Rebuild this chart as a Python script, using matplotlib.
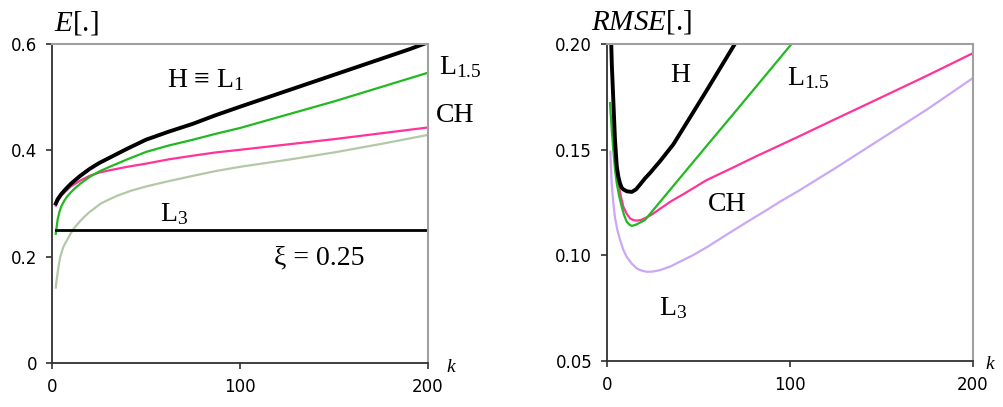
import matplotlib
matplotlib.use("Agg")
import matplotlib.pyplot as plt

plt.rcParams['mathtext.fontset'] = 'custom'
plt.rcParams['mathtext.rm'] = 'Liberation Serif'
plt.rcParams['mathtext.it'] = 'Liberation Serif:italic'

SERIF = ['Liberation Serif', 'DejaVu Serif']

# ---- left panel: E[.] vs k ----
e_h_k = [2, 3, 5, 7, 10, 15, 20, 25, 30, 40, 50, 62, 75, 87, 100, 125, 150, 175, 190, 200]
e_h = [0.300, 0.308, 0.318, 0.326, 0.337, 0.352, 0.365, 0.376, 0.385, 0.403, 0.420, 0.435,
       0.450, 0.466, 0.482, 0.512, 0.542, 0.572, 0.590, 0.603]

e_l15_k = [2, 3, 4, 5, 6.5, 8, 10, 12, 15, 20, 25, 30, 40, 50, 62, 75, 87, 100, 125, 150, 175, 200]
e_l15 = [0.243, 0.270, 0.285, 0.295, 0.305, 0.313, 0.321, 0.328, 0.337, 0.350, 0.360, 0.368,
         0.383, 0.397, 0.409, 0.420, 0.431, 0.442, 0.467, 0.492, 0.519, 0.546]

e_ch_k = [2, 3, 5, 7, 10, 15, 20, 25, 30, 40, 50, 62, 75, 87, 100, 125, 150, 175, 200]
e_ch = [0.296, 0.304, 0.315, 0.322, 0.332, 0.343, 0.352, 0.358, 0.362, 0.369, 0.375, 0.383,
        0.390, 0.396, 0.401, 0.411, 0.421, 0.432, 0.443]

e_l3_k = [2, 2.5, 3, 3.7, 4.4, 5, 6, 7, 8, 9.5, 11, 13, 15, 17.5, 20, 23, 26, 30, 35, 42, 50,
          62, 75, 87, 100, 125, 150, 175, 200]
e_l3 = [0.142, 0.157, 0.170, 0.186, 0.200, 0.207, 0.218, 0.225, 0.231, 0.241, 0.250, 0.259,
        0.267, 0.276, 0.284, 0.292, 0.300, 0.307, 0.315, 0.324, 0.332, 0.342, 0.352, 0.361,
        0.369, 0.382, 0.396, 0.412, 0.429]

xi_k = [2, 200]
xi = [0.25, 0.25]

# ---- right panel: RMSE[.] vs k ----
r_h_k = [1, 2, 2.8, 3.6, 4.5, 5.5, 6.4, 7.3, 8.2, 9.1, 11, 13.7, 16, 18.2, 21, 23.7, 29.1, 36.4,
         45, 54.6, 63, 70, 75]
r_h = [0.26, 0.215, 0.19, 0.1735, 0.155, 0.142, 0.137, 0.134, 0.132, 0.1312, 0.1303, 0.130,
       0.1312, 0.1335, 0.1365, 0.139, 0.1445, 0.1525, 0.1645, 0.178, 0.190, 0.200, 0.207]

r_l15_k = [1.8, 2.7, 3.6, 4.5, 5.5, 6.8, 8.2, 9.5, 10.9, 12.3, 13.7, 16, 18.2, 20.9, 25, 30,
           40, 55, 70, 85, 101]
r_l15 = [0.172, 0.16, 0.1498, 0.141, 0.134, 0.128, 0.123, 0.119, 0.116, 0.1146, 0.1139, 0.1145,
         0.1155, 0.1167, 0.121, 0.1262, 0.1366, 0.1522, 0.1677, 0.1833, 0.200]

r_ch_k = [2, 2.7, 3.6, 4.5, 5.5, 6.4, 7.7, 9.1, 10.9, 12.7, 14.5, 16.4, 19, 21.9, 25, 29.1,
          35, 42, 54.6, 68, 82, 95, 105.6, 125, 149, 175, 200]
r_ch = [0.21, 0.19, 0.1735, 0.156, 0.142, 0.134, 0.128, 0.123, 0.1197, 0.1175, 0.1167, 0.1164,
        0.1168, 0.118, 0.1195, 0.122, 0.1255, 0.129, 0.1356, 0.1411, 0.147, 0.1522, 0.1565,
        0.1645, 0.1743, 0.185, 0.1956]

r_l3_k = [2, 2.7, 3.6, 4.5, 5.8, 7.3, 9, 10.9, 13.6, 16.4, 19, 21.9, 25, 29.1, 35, 40, 47, 55,
          65, 78.4, 87, 94.7, 105.6, 125, 149, 175, 200]
r_l3 = [0.149, 0.134, 0.125, 0.118, 0.112, 0.1072, 0.1028, 0.0993, 0.0962, 0.0938, 0.0928,
        0.0922, 0.0923, 0.093, 0.0948, 0.097, 0.100, 0.104, 0.1095, 0.1167, 0.1212, 0.1254,
        0.1309, 0.1413, 0.1546, 0.169, 0.1838]

fig = plt.figure(figsize=(10.04, 4.07), dpi=100)
ax1 = fig.add_axes([0.0518, 0.1081, 0.3745, 0.7838])
ax2 = fig.add_axes([0.6043, 0.1130, 0.3645, 0.7789])


def style_axes(ax, xlim, ylim, yticks, ylabels):
    ax.set_xlim(*xlim)
    ax.set_ylim(*ylim)
    ax.set_xticks([0, 100, 200])
    ax.set_yticks(yticks)
    ax.set_yticklabels(ylabels)
    for side in ('top', 'right'):
        ax.spines[side].set_color('#a0a0a0')
        ax.spines[side].set_linewidth(1.5)
    for side in ('left', 'bottom'):
        ax.spines[side].set_color('#303030')
        ax.spines[side].set_linewidth(1.3)
    ax.tick_params(direction='out', length=4.5, width=1.2, color='#303030',
                   labelsize=12, pad=6)


style_axes(ax1, (0, 200), (0, 0.6), [0, 0.2, 0.4, 0.6], ['0', '0.2', '0.4', '0.6'])
style_axes(ax2, (0, 200), (0.05, 0.20), [0.05, 0.10, 0.15, 0.20], ['0.05', '0.10', '0.15', '0.20'])

# left curves
ax1.plot(e_l3_k, e_l3, color='#b3c8a6', lw=1.6)
ax1.plot(e_ch_k, e_ch, color='#ff3399', lw=1.6)
ax1.plot(e_l15_k, e_l15, color='#22b822', lw=1.6)
ax1.plot(e_h_k, e_h, color='black', lw=2.8)
ax1.plot(xi_k, xi, color='black', lw=2.0)

# right curves
ax2.plot(r_l3_k, r_l3, color='#caa8f5', lw=1.6)
ax2.plot(r_ch_k, r_ch, color='#ff3399', lw=1.6)
ax2.plot(r_l15_k, r_l15, color='#22b822', lw=1.6)
ax2.plot(r_h_k, r_h, color='black', lw=2.8)

# titles
fig.text(0.054, 0.925, r'$\mathit{E}$[.]', fontsize=21, family=SERIF)
fig.text(0.589, 0.928, r'$\mathit{RMSE}$[.]', fontsize=21, family=SERIF)

# axis k labels
ax1.text(1.06, -0.015, 'k', transform=ax1.transAxes, fontsize=14,
         style='italic', family=SERIF, ha='center', va='center')
ax2.text(1.047, -0.01, 'k', transform=ax2.transAxes, fontsize=14,
         style='italic', family=SERIF, ha='center', va='center')

# left annotations
ax1.text(82, 0.532, r'H ≡ L$_1$', fontsize=20, family=SERIF, ha='center', va='center', clip_on=False)
ax1.text(206, 0.556, r'L$_{1.5}$', fontsize=20, family=SERIF, ha='left', va='center', clip_on=False)
ax1.text(204, 0.465, 'CH', fontsize=20, family=SERIF, ha='left', va='center', clip_on=False)
ax1.text(65, 0.28, r'L$_3$', fontsize=20, family=SERIF, ha='center', va='center')
ax1.text(142, 0.198, 'ξ = 0.25', fontsize=20, family=SERIF, ha='center', va='center')

# right annotations
ax2.text(40, 0.185, 'H', fontsize=20, family=SERIF, ha='center', va='center')
ax2.text(110, 0.184, r'L$_{1.5}$', fontsize=20, family=SERIF, ha='center', va='center')
ax2.text(66, 0.124, 'CH', fontsize=20, family=SERIF, ha='center', va='center')
ax2.text(36, 0.075, r'L$_3$', fontsize=20, family=SERIF, ha='center', va='center')

fig.savefig('out.png', dpi=100)
